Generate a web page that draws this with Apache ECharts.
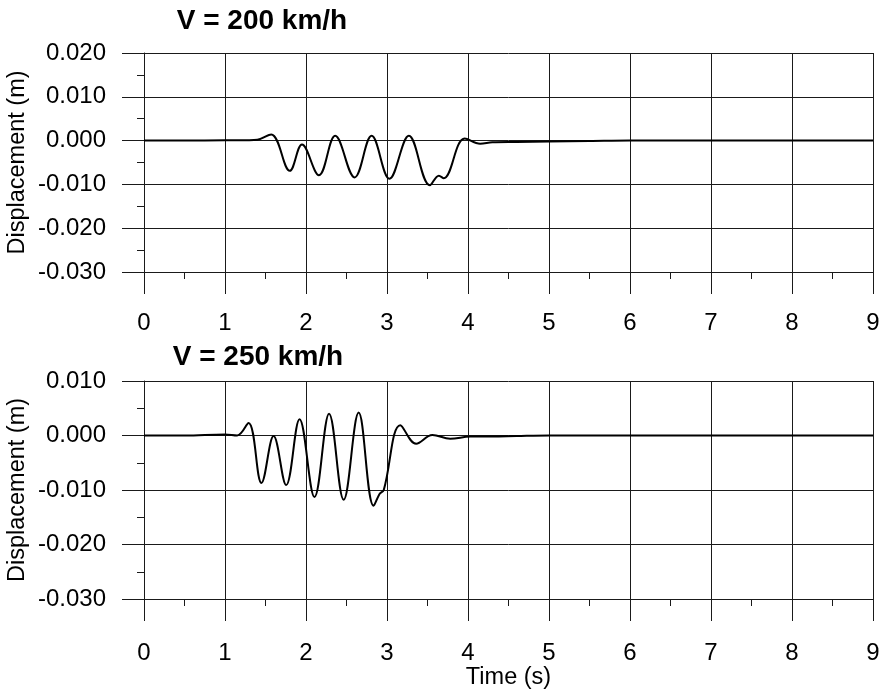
<!DOCTYPE html>
<html>
<head>
<meta charset="utf-8">
<title>Displacement time histories</title>
<script src="https://cdn.jsdelivr.net/npm/echarts@6/dist/echarts.min.js"></script>
<style>
  html, body { margin: 0; padding: 0; background: #ffffff; }
  #chart { width: 883px; height: 690px; }
</style>
</head>
<body>
<div id="chart"></div>
<script>
// Panel titles
const panelTitles = ['V = 200 km/h', 'V = 250 km/h'];

// Time axis ticks (s)
const timeTicks = [0, 1, 2, 3, 4, 5, 6, 7, 8, 9];

// Vertical displacement ranges (m) for each panel
const yRange200 = [-0.030, 0.020];
const yRange250 = [-0.030, 0.010];

// V = 200 km/h : time (s) and displacement (m) at the turning points of the response
const t200 = [0, 0.5, 1.0, 1.3, 1.40, 1.57, 1.80, 1.95, 2.16, 2.36, 2.60, 2.81,
  3.03, 3.27, 3.53, 3.64, 3.70, 3.96, 4.15, 4.30, 4.6, 5.0, 5.5, 6, 7, 8, 9];
const d200 = [0, 0.0000, 0.0001, 0.0001, 0.0002, 0.0014, -0.0069, -0.0009, -0.0079, 0.0011, -0.0084, 0.0011,
  -0.0087, 0.0011, -0.0102, -0.0080, -0.0086, 0.0005, -0.0007, -0.0004, -0.0003, -0.0002, -0.0001, 0, 0, 0, 0];

// V = 250 km/h : time (s) and displacement (m) at the turning points of the response
const t250 = [0, 0.5, 1.0, 1.15, 1.29, 1.45, 1.60, 1.755, 1.92, 2.105, 2.285, 2.465,
  2.65, 2.835, 2.91, 2.96, 3.165, 3.36, 3.56, 3.78, 4.03, 4.3, 4.6, 5.0, 6, 7, 8, 9];
const d250 = [0, 0.0000, 0.0002, 0.0000, 0.0023, -0.0087, -0.0001, -0.0091, 0.0030, -0.0113, 0.0040, -0.0118,
  0.0042, -0.0129, -0.0107, -0.0100, 0.0019, -0.0015, 0.0001, -0.0006, -0.0002, -0.0002, -0.0001, 0, 0, 0, 0, 0];

const FONT = '"Liberation Sans", Arial, Helvetica, sans-serif';
const INK = '#1a1a1a';
const LABEL_SIZE = 24;

function pairs(ts, ds) {
  return ts.map((t, i) => [t, ds[i]]);
}

function xAxisFor(gridIndex, withName, labelMargin) {
  return {
    type: 'value',
    gridIndex: gridIndex,
    min: timeTicks[0],
    max: timeTicks[timeTicks.length - 1],
    interval: 1,
    name: withName ? 'Time (s)' : '',
    nameLocation: 'middle',
    nameGap: 67,
    nameMoveOverlap: false,
    nameTextStyle: { color: '#000', fontSize: 23.5, fontFamily: FONT },
    axisLine: { show: true, onZero: false, lineStyle: { color: INK, width: 1 } },
    axisTick: { show: true, inside: false, length: 22, lineStyle: { color: INK, width: 1 } },
    minorTick: { show: true, splitNumber: 2, length: 7, lineStyle: { color: INK, width: 1 } },
    splitLine: { show: true, showMinLine: true, showMaxLine: true, lineStyle: { color: INK, width: 1 } },
    axisLabel: { color: '#000', fontSize: LABEL_SIZE, fontFamily: FONT, margin: labelMargin,
      formatter: v => String(v) }
  };
}

function yAxisFor(gridIndex, range) {
  return {
    type: 'value',
    gridIndex: gridIndex,
    min: range[0],
    max: range[1],
    interval: 0.01,
    name: 'Displacement (m)',
    nameLocation: 'middle',
    nameGap: 114,
    nameMoveOverlap: false,
    nameTextStyle: { color: '#000', fontSize: 23.5, fontFamily: FONT },
    axisLine: { show: true, onZero: false, lineStyle: { color: INK, width: 1 } },
    axisTick: { show: true, inside: false, length: 22, lineStyle: { color: INK, width: 1 } },
    minorTick: { show: true, splitNumber: 2, length: 7, lineStyle: { color: INK, width: 1 } },
    splitLine: { show: true, showMinLine: true, showMaxLine: true, lineStyle: { color: INK, width: 1 } },
    axisLabel: { color: '#000', fontSize: LABEL_SIZE, fontFamily: FONT, margin: 38,
      formatter: v => (Math.abs(v) < 1e-9 ? 0 : v).toFixed(3) }
  };
}

function lineSeries(idx, data) {
  return {
    type: 'line',
    xAxisIndex: idx,
    yAxisIndex: idx,
    data: data,
    smooth: 0.38,
    showSymbol: false,
    symbol: 'none',
    silent: true,
    animation: false,
    lineStyle: { color: '#000', width: 2 }
  };
}

const chart = echarts.init(document.getElementById('chart'), null, { renderer: 'canvas' });
chart.setOption({
  animation: false,
  backgroundColor: '#ffffff',
  title: [
    { text: panelTitles[0], left: 262, top: 7, padding: 0, textAlign: 'center',
      textStyle: { color: '#000', fontSize: 28, fontWeight: 'bold', fontFamily: FONT } },
    { text: panelTitles[1], left: 258, top: 343, padding: 0, textAlign: 'center',
      textStyle: { color: '#000', fontSize: 28, fontWeight: 'bold', fontFamily: FONT } }
  ],
  grid: [
    { left: 144, top: 53, width: 729, height: 219, outerBoundsMode: 'none', containLabel: false },
    { left: 144, top: 381, width: 729, height: 218, outerBoundsMode: 'none', containLabel: false }
  ],
  xAxis: [xAxisFor(0, false, 39), xAxisFor(1, true, 42)],
  yAxis: [yAxisFor(0, yRange200), yAxisFor(1, yRange250)],
  series: [lineSeries(0, pairs(t200, d200)), lineSeries(1, pairs(t250, d250))]
});
</script>
</body>
</html>
